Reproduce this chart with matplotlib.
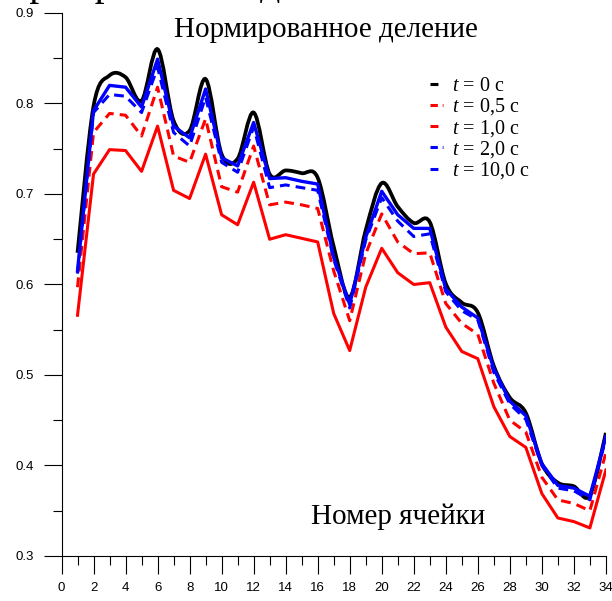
import numpy as np
import matplotlib.pyplot as plt
from matplotlib.path import Path
from matplotlib.patches import PathPatch
from matplotlib.lines import Line2D

plt.rcParams['font.family'] = 'Liberation Serif'
plt.rcParams['mathtext.fontset'] = 'custom'
plt.rcParams['mathtext.rm'] = 'Liberation Serif'
plt.rcParams['mathtext.it'] = 'Liberation Serif:italic'

# номера ячеек
cells = np.arange(1, 35)

# нормированное деление в ячейках в разные моменты времени
t0 = [0.635, 0.797, 0.831, 0.829, 0.803, 0.860, 0.781, 0.770, 0.827, 0.744,
      0.739, 0.790, 0.722, 0.726, 0.723, 0.718, 0.642, 0.586, 0.660, 0.712,
      0.686, 0.668, 0.669, 0.601, 0.580, 0.569, 0.510, 0.475, 0.458, 0.402,
      0.381, 0.377, 0.367, 0.436]
t05 = [0.597, 0.768, 0.789, 0.787, 0.764, 0.818, 0.742, 0.735, 0.783, 0.708,
       0.702, 0.753, 0.688, 0.691, 0.688, 0.684, 0.615, 0.560, 0.634, 0.678,
       0.647, 0.634, 0.635, 0.579, 0.557, 0.545, 0.491, 0.450, 0.437, 0.387,
       0.362, 0.358, 0.350, 0.414]
t1 = [0.566, 0.722, 0.749, 0.748, 0.725, 0.775, 0.704, 0.695, 0.744, 0.677,
      0.666, 0.713, 0.650, 0.655, 0.651, 0.647, 0.568, 0.527, 0.597, 0.640,
      0.613, 0.600, 0.602, 0.553, 0.526, 0.518, 0.465, 0.432, 0.420, 0.369,
      0.342, 0.338, 0.331, 0.395]
t2 = [0.612, 0.790, 0.810, 0.808, 0.790, 0.840, 0.768, 0.753, 0.807, 0.735,
      0.724, 0.774, 0.707, 0.710, 0.707, 0.704, 0.628, 0.574, 0.649, 0.696,
      0.670, 0.653, 0.656, 0.592, 0.571, 0.561, 0.503, 0.468, 0.451, 0.400,
      0.375, 0.372, 0.362, 0.430]
t10 = [0.615, 0.792, 0.820, 0.818, 0.796, 0.849, 0.775, 0.762, 0.816, 0.740,
       0.731, 0.779, 0.717, 0.718, 0.714, 0.711, 0.630, 0.578, 0.652, 0.703,
       0.677, 0.662, 0.662, 0.595, 0.575, 0.563, 0.507, 0.471, 0.455, 0.402,
       0.378, 0.375, 0.366, 0.432]

labels = ['$t$ = 0 с', '$t$ = 0,5 с', '$t$ = 1,0 с', '$t$ = 2,0 с', '$t$ = 10,0 с']


def smooth_path(x, y):
    # кривая Катмулла-Рома через узлы, кубическими сегментами Безье
    x = np.asarray(x, float)
    y = np.asarray(y, float)
    px = np.concatenate([[x[0]], x, [x[-1]]])
    py = np.concatenate([[y[0]], y, [y[-1]]])
    verts = [(x[0], y[0])]
    codes = [Path.MOVETO]
    for i in range(1, len(px) - 2):
        c1 = (px[i] + (px[i + 1] - px[i - 1]) / 6, py[i] + (py[i + 1] - py[i - 1]) / 6)
        c2 = (px[i + 1] - (px[i + 2] - px[i]) / 6, py[i + 1] - (py[i + 2] - py[i]) / 6)
        verts += [c1, c2, (px[i + 1], py[i + 1])]
        codes += [Path.CURVE4] * 3
    return Path(verts, codes)


fig = plt.figure(figsize=(6.12, 6.01), dpi=100)
ax = fig.add_axes([0.1005, 0.0749, 0.8895, 0.9035])

ax.add_patch(PathPatch(smooth_path(cells, t0), facecolor='none',
                       edgecolor='black', lw=2.7, zorder=2))
ax.plot(cells, t1, color='#ff0000', lw=2.2, zorder=3)
ax.plot(cells, t05, color='#ff0000', lw=2.2, dashes=(3.2, 2.0), zorder=4)
ax.plot(cells, t2, color='#0000ff', lw=2.2, dashes=(3.2, 2.0), zorder=5)
ax.plot(cells, t10, color='#0000ff', lw=2.4, zorder=6)

ax.set_xlim(0, 34)
ax.set_ylim(0.3, 0.9)
ax.spines['top'].set_visible(False)
ax.spines['right'].set_visible(False)
ax.set_xticks(np.arange(0, 35, 2))
ax.set_xticks(np.arange(1, 34, 2), minor=True)
ax.set_yticks(np.arange(0.3, 0.91, 0.1))
ax.set_yticks(np.arange(0.35, 0.9, 0.1), minor=True)
ax.set_yticklabels(['0.3', '0.4', '0.5', '0.6', '0.7', '0.8', '0.9'])
ax.tick_params(which='major', length=13, width=0.8, direction='out')
ax.tick_params(which='minor', length=6.3, width=0.8, direction='out')
ax.tick_params(axis='x', pad=6)
ax.tick_params(axis='y', pad=7)
for lab in ax.get_xticklabels() + ax.get_yticklabels():
    lab.set_fontfamily('Liberation Sans')
    lab.set_fontsize(9.5)

# легенда: сплошные линии — один штрих, пунктир — два
proxies = [
    Line2D([], [], color='black', lw=2.2, dashes=(2.6, 20)),
    Line2D([], [], color='#ff0000', lw=2.2, dashes=(2.4, 1.6)),
    Line2D([], [], color='#ff0000', lw=2.2, dashes=(2.6, 20)),
    Line2D([], [], color='#0000ff', lw=2.2, dashes=(2.4, 1.6)),
    Line2D([], [], color='#0000ff', lw=2.2, dashes=(2.6, 20)),
]
ax.legend(proxies, labels, loc='upper left', bbox_to_anchor=(0.663, 0.897),
          frameon=False, fontsize=14.5, handlelength=0.6, handletextpad=0.45,
          labelspacing=0.02, borderaxespad=0)

fig.text(326 / 612, 1 - 30 / 601, 'Нормированное деление', fontsize=21,
         ha='center', va='center')
fig.text(398 / 612, 1 - 517 / 601, 'Номер ячейки', fontsize=21,
         ha='center', va='center')
fig.text(-19 / 612, 1 + 5 / 601, 'Нормированное деление', fontsize=28.5,
         ha='left', va='baseline')

fig.savefig('out.png', dpi=100)
